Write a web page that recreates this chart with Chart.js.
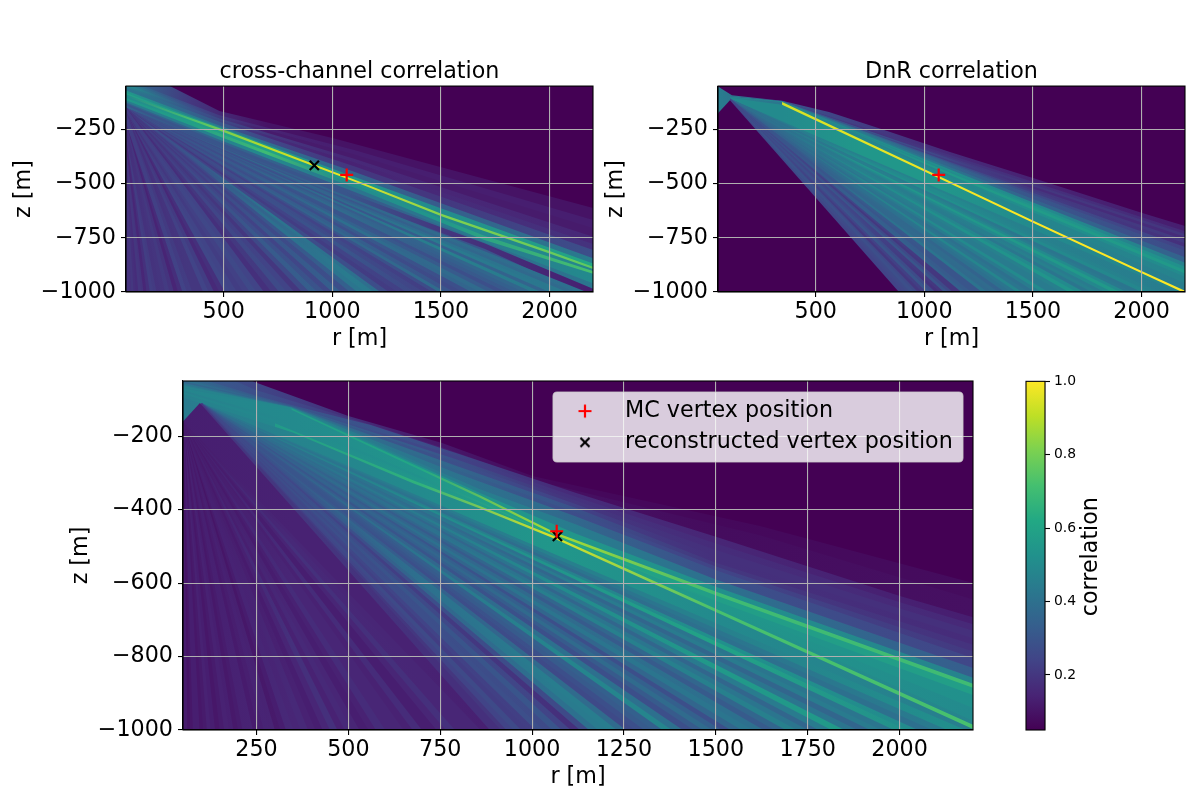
<!DOCTYPE html>
<html><head><meta charset="utf-8">
<style>html,body{margin:0;padding:0;background:#fff}#page{position:relative;width:1200px;height:800px;overflow:hidden}canvas{position:absolute}</style>
<script src="https://cdn.jsdelivr.net/npm/chart.js@4"></script>
</head><body><div id="page"></div>
<script>
// ---- values ----
const panel1Title = 'cross-channel correlation';
const panel2Title = 'DnR correlation';
const legendLabels = ['MC vertex position', 'reconstructed vertex position'];
const xLabel = 'r [m]', zLabel = 'z [m]', colorLabel = 'correlation';
const smallXTicks = [500, 1000, 1500, 2000];
const smallZTicks = [-1000, -750, -500, -250];
const bigXTicks = [250, 500, 750, 1000, 1250, 1500, 1750, 2000];
const bigZTicks = [-1000, -800, -600, -400, -200];
const colorTicks = [0.2, 0.4, 0.6, 0.8, 1.0];
const rRange = [50, 2200], zRange = [-1000, -50], corrRange = [0.05, 1.0];
const viridisStops = ['#440154','#482475','#414487','#355f8d','#2a788e','#21918c','#22a884','#44bf70','#7ad151','#bddf26','#fde725'];
const corrStations = [50, 350, 700, 1060, 1500, 2200];
const p1McVertex = [1066, -460], p1RecoVertex = [917, -416];
const p2McVertex = [1066, -460];
const p3McVertex = [1067, -459], p3RecoVertex = [1069, -473];

// Upper rays: r,z,r,z... Each band is the stretch below its ray, down to the next ray.
const p1Rays = [
[50,100,2200,100],
[50,60,252,-50,480,-165,1000,-290,2200,-613],
[50,-20,480,-185,1100,-345,2200,-668],
[50,-30,480,-192,1100,-365,2200,-705],
[50,-40,480,-200,1100,-385,2200,-745],
[50,-48,480,-208,1100,-402,2200,-778],
[50,-55,480,-215,1100,-420,2200,-806],
[50,-70,480,-232,1100,-445,2200,-844],
[50,-82,480,-240,1100,-468,2200,-868],
[50,-88,266,-168,498,-250,1118,-488,1505,-640,1993,-808,2200,-884],
[50,-97,266,-178,498,-262,1118,-497,1505,-652,1993,-820,2200,-894],
[50,-105,498,-275,1118,-510,1700,-740,2200,-903],
[50,-115,498,-290,1118,-525,1700,-760,2200,-916],
[50,-125,498,-305,1118,-545,1700,-770,2200,-960],
[50,-130,498,-315,1118,-560,1700,-775,2200,-985],
[50,-140,498,-330,1118,-585,1700,-800,2200,-1030]
];
const p1Corr = [
[.05,.05,.05,.05,.05,.05],
[.40,.20,.10,.10,.10,.10],[.42,.26,.14,.13,.13,.13],[.46,.28,.12,.12,.12,.12],[.50,.30,.20,.16,.15,.16],[.46,.30,.17,.14,.16,.19],[.42,.35,.25,.20,.20,.28],
[.55,.45,.40,.35,.32,.45],[.60,.55,.55,.55,.50,.62],[.50,.72,.90,.98,.82,.76],[.50,.58,.60,.55,.50,.48],
[.55,.58,.70,.50,.55,.72],[.45,.45,.50,.42,.42,.50],[.35,.35,.35,.30,.38,.42],[.30,.30,.30,.30,.20,.13],
[.35,.30,.30,.30,.30,.30]
];
// Lower rays run from r=50 at the start depth to the bottom edge at the hit radius.
const p1FanHit = [2170,2120,2080,2040,2000,1960,1920,1880,1840,1800,1760,1720,1680,1640,1600,1560,1520,1490,1460,1420,1380,1340,1300,1260,1220,1190,1150,1115,1080,1040,1000,965,930,895,860,825,790,755,720,685,650,620,590,560,530,505,480,455,430,405,380,355,330,310,290,270,250,230,210,190,175,160,145,130,120,107,95,85,75];
const p1FanStart = [-150,-150,-150,-150,-150,-150,-150,-150,-150,-150,-150,-150,-150,-150,-150,-150,-150,-150,-150,-150,-150,-150,-150,-150,-150,-150,-150,-150,-150,-150,-150,-150,-150,-150,-150,-150,-150,-150,-150,-150,-150,-170,-170,-170,-170,-170,-170,-170,-170,-170,-170,-170,-170,-220,-220,-220,-220,-220,-220,-280,-280,-280,-280,-330,-330,-380,-380,-450,-450];
const p1FanCorr = [
[.28,.30,.32,.36,.38,.40],[.28,.28,.30,.30,.36,.38],[.30,.32,.38,.34,.40,.44],[.28,.28,.30,.38,.44,.42],[.26,.26,.28,.30,.34,.36],
[.28,.30,.34,.40,.46,.42],[.26,.28,.30,.32,.36,.36],[.28,.30,.32,.36,.34,.34],[.28,.28,.36,.38,.32,.30],[.26,.26,.30,.30,.28,.28],
[.26,.26,.28,.30,.32,.32],[.27,.30,.32,.34,.38,.38],[.30,.30,.34,.40,.36,.34],[.26,.28,.30,.32,.28],[.26,.26,.28,.28,.26],
[.26,.28,.32,.34,.30],[.25,.30,.34,.36,.38],[.24,.26,.28,.30,.26],[.22,.22,.24,.24,.22],[.24,.26,.28,.26,.24],
[.24,.26,.28,.30,.24],[.22,.24,.24,.24,.22],[.20,.20,.22,.22,.21],[.22,.24,.26,.28,.26],[.26,.30,.42,.40,.38],
[.25,.30,.36,.44,.42],[.24,.28,.40,.42,.42],[.22,.24,.30,.34],[.20,.22,.26,.28],[.22,.24,.30,.34],
[.18,.22,.24,.26],[.20,.24,.28,.30],[.22,.26,.32,.34],[.20,.22,.26],[.18,.20,.20],
[.20,.22,.24],[.20,.24,.26],[.18,.20,.21],[.16,.18,.18],[.20,.24,.24],
[.22,.25,.26],[.20,.23,.23],[.18,.22,.22],[.20,.24,.24],[.22,.25,.25],
[.18,.18,.18],[.15,.16,.16],[.19,.22,.22],[.20,.24,.24],[.18,.20,.20],
[.17,.20,.20],[.20,.22,.22],[.22,.24,.24],[.16,.18],[.14,.15],
[.18,.20],[.20,.22],[.19,.20],[.18,.20],[.21,.22],
[.22,.23],[.18,.19],[.15,.16],[.19,.20],[.20,.20],
[.17,.18],[.18,.18],[.20,.20],[.19,.19]
];

const p2Rays = [
[50,100,2200,100],
[50,-52,114,-92,345,-118,561,-170,791,-245,1118,-354,1500,-474,2003,-636,2200,-696],
[105,-100,345,-119,1118,-368,2200,-720],
[105,-100,345,-119,1118,-378,2200,-733],
[105,-100,345,-119,1118,-385,2200,-745],
[105,-100,345,-120,1118,-393,2200,-760],
[105,-100,345,-120,1118,-400,2200,-775],
[105,-100,345,-120,1118,-406,2200,-792],
[105,-100,345,-120,1118,-412,2200,-810],
[105,-100,345,-121,1118,-425,2200,-840],
[105,-100,345,-121,1118,-435,2200,-865],
[105,-100,345,-122,1118,-443,2200,-883],
[105,-100,345,-122,1118,-450,2200,-900],
[105,-100,345,-122,1118,-460,2200,-915],
[105,-100,345,-122,1118,-470,2200,-930],
[105,-100,345,-123,1118,-482,2200,-960],
[345,-124,1118,-489,1500,-670,2003,-904,2200,-994],
[105,-105,345,-136,1118,-500,1500,-681,2003,-915,2200,-1006]
];
const p2Corr = [
[.05,.05,.05,.05,.05,.05],
[.45,.30,.22,.17,.14,.13],[.40,.25,.20,.19,.18,.17],[.40,.25,.18,.21,.20,.20],[.40,.30,.30,.25,.17,.17],[.40,.30,.26,.22,.20,.21],
[.42,.36,.34,.30,.22,.18],[.42,.38,.38,.34,.26,.24],[.42,.40,.42,.36,.30,.27],[.45,.45,.45,.42,.35,.35],[.48,.50,.52,.52,.50,.46],
[.48,.46,.48,.50,.54,.52],[.48,.48,.50,.56,.57,.56],[.48,.50,.46,.48,.52,.50],[.48,.50,.48,.50,.48,.47],
[.48,.42,.50,.52,.48,.45],[.92,.94,.96,.98,1,1],
[.50,.50,.55,.55,.50,.48]
];
const p2FanHit = [2170,2120,2080,2040,2000,1960,1930,1900,1865,1830,1800,1770,1735,1700,1665,1630,1600,1570,1540,1510,1480,1450,1425,1400,1370,1340,1315,1290,1265,1240,1215,1190,1170,1150,1130,1110,1090,1070,1050,1030,1010,990,970,955,935,920,905];
const p2FanCorr = [
[.40,.44,.46,.47,.46,.45],[.40,.45,.48,.50,.46,.45],[.40,.42,.50,.50,.47,.46],[.40,.42,.52,.52,.50,.48],[.38,.40,.44,.44,.42,.42],
[.40,.40,.46,.46,.44,.42],[.38,.40,.44,.48,.50,.50],[.40,.42,.54,.55,.56,.56],[.40,.42,.50,.50,.50,.48],[.38,.40,.46,.46,.44,.44],
[.38,.40,.44,.44,.46,.46],[.40,.40,.46,.44,.42,.42],[.38,.40,.46,.48,.50,.50],[.40,.42,.50,.52,.54],[.38,.40,.44,.46,.46],
[.40,.40,.44,.44,.44],[.38,.38,.42,.44,.44],[.38,.38,.48,.50,.50],[.36,.38,.44,.44,.44],[.36,.38,.42,.40,.40],
[.36,.36,.40,.42,.42],[.36,.38,.46,.48,.48],[.34,.36,.40,.42,.42],[.34,.36,.40,.40,.40],[.34,.34,.38,.36,.34],
[.34,.36,.36,.38,.38],[.30,.32,.36,.38,.36],[.30,.30,.40,.42,.40],[.28,.30,.32,.30],[.30,.30,.30,.30],
[.28,.30,.34,.32],[.28,.30,.34,.34],[.26,.26,.24,.20],[.25,.25,.20,.20],[.26,.28,.26,.26],
[.28,.30,.30,.30],[.26,.26,.24,.20],[.25,.25,.25,.18],[.26,.28,.28,.26],[.28,.28,.30,.30],
[.26,.26,.24,.22],[.25,.25,.20,.20],[.27,.28,.26,.26],[.28,.30,.28,.28],[.26,.28,.26],
[.25,.30,.25],[.24,.26,.24]
];
const p2Floor = [50,-175,105,-115,883,-1000];

const p3Rays = [
[50,100,2200,100],
[50,40,250,-55,500,-145,755,-219,1003,-309,1620,-445,2200,-600],
[50,10,250,-75,500,-150,755,-230,1003,-320,1620,-470,2200,-645],
[50,-30,250,-90,345,-115,561,-170,791,-245,1118,-354,1500,-474,2003,-636,2200,-693],
[50,-40,345,-117,791,-253,1118,-365,1500,-492,2003,-653,2200,-712],
[50,-45,345,-118,791,-262,1118,-375,1500,-510,2003,-670,2200,-730],
[50,-50,345,-119,791,-270,1118,-385,1500,-528,2003,-688,2200,-750],
[50,-55,345,-120,791,-280,1118,-395,1500,-545,2200,-768],
[50,-60,345,-121,791,-290,1118,-407,1500,-555,2200,-786],
[50,-62,345,-122,791,-300,1118,-418,1500,-565,2200,-804],
[50,-65,345,-122,858,-345,1118,-440,1500,-590,2200,-831],
[50,-66,345,-123,858,-355,1118,-465,1500,-610,2200,-858],
[345,-124,858,-361,1060,-461,1505,-625,2200,-874],
[50,-70,345,-128,858,-368,1060,-468,1505,-635,2200,-885],
[50,-75,349,-160,858,-378,1060,-470,1505,-650,2200,-905],
[50,-80,349,-170,858,-383,1060,-470.5,1505,-655,2200,-940],
[50,-85,349,-178,858,-386,1060,-471,1505,-664,2200,-975],
[300,-165,676,-320,858,-390,1060,-472,1503,-671,2200,-986],
[50,-95,349,-190,676,-328,858,-397,1060,-479,1503,-680,2200,-997]
];
const p3Corr = [
[.05,.05,.05,.05,.05,.05],
[.30,.22,.12,.07,.07,.08],[.33,.25,.14,.09,.08,.09],[.36,.30,.28,.17,.15,.13],[.38,.30,.25,.19,.17,.16],[.40,.33,.32,.20,.18,.18],[.36,.34,.29,.24,.18,.17],
[.42,.38,.38,.30,.20,.19],[.44,.42,.37,.28,.24,.21],[.46,.47,.42,.38,.28,.25],[.48,.48,.45,.45,.40,.33],[.46,.50,.52,.55,.52,.47],
[.50,.58,.62,.88,.70,.70],[.48,.50,.54,.62,.58,.58],[.46,.50,.53,.66,.55,.52],[.48,.50,.54,.60,.55,.50],
[.46,.50,.55,.62,.55,.47],[.50,.58,.66,.95,.72,.72],[.44,.47,.50,.55,.50,.45]
];
const p3FanHit = [2180,2130,2090,2050,2020,1985,1950,1920,1885,1850,1815,1780,1750,1720,1690,1660,1630,1600,1570,1540,1515,1490,1465,1440,1410,1380,1355,1330,1305,1280,1255,1230,1205,1180,1155,1130,1105,1080,1055,1030,1010,990,970,950,930,915];
const p3FanCorr = [
[.42,.44,.44,.46,.46,.52],[.42,.42,.42,.42,.42,.44],[.42,.42,.40,.38,.40,.40],[.42,.44,.46,.46,.52,.50],[.42,.46,.50,.54,.60,.50],
[.40,.40,.42,.40,.42,.42],[.40,.40,.42,.44,.44,.44],[.40,.40,.38,.36,.36,.36],[.40,.40,.40,.40,.42,.42],[.40,.42,.44,.50,.56,.56],
[.40,.40,.40,.42,.44,.44],[.40,.38,.36,.36,.36,.36],[.40,.40,.40,.42,.42],[.40,.38,.40,.46,.46],[.38,.38,.36,.36,.36],
[.35,.35,.32,.32,.32],[.36,.36,.36,.38,.40],[.35,.38,.40,.42,.42],[.35,.36,.36,.36,.36],[.35,.33,.30,.28,.28],
[.34,.34,.34,.34,.34],[.35,.35,.36,.38,.38],[.33,.34,.34,.32,.32],[.30,.30,.30,.28,.28],[.30,.32,.36,.40,.40],
[.30,.35,.42,.48,.48],[.30,.32,.34,.34,.34],[.30,.30,.32,.32],[.28,.30,.30,.28],[.28,.30,.28,.26],
[.28,.30,.34,.38],[.28,.32,.40,.45],[.26,.30,.40,.44],[.25,.30,.36,.40],[.25,.28,.28,.26],
[.25,.25,.22,.18],[.25,.28,.26,.24],[.25,.28,.30,.30],[.24,.26,.28,.26],[.25,.28,.28,.28],
[.24,.26,.24,.22],[.22,.25,.22,.22],[.24,.26,.26],[.22,.25,.24],[.22,.22,.20],[.20,.20,.18]
];
const p3Floor = [50,-160,96,-110,885,-1000];
const p3FloorCorr = [.13,.14,.14,.13];
const p3DimHit = [860,830,790,765,740,700,675,650,625,600,575,555,530,510,490,470,450,430,410,390,370,350,330,315,300,285,270,255,240,225,212,200,187,175,162,150,137,125,115,105,95,85,77,70,62];
const p3DimCorr = [
[.12,.15,.15,.15],[.12,.16,.15],[.13,.18,.18],[.12,.15,.15],[.12,.13,.13],[.13,.17,.17],[.12,.14,.14],[.12,.15,.15],[.12,.15,.15],[.13,.17,.17],
[.12,.14,.14],[.11,.13,.13],[.12,.15,.15],[.12,.16,.16],[.12,.14,.14],[.13,.18,.18],[.12,.15,.15],[.11,.13,.13],[.12,.14,.14],[.12,.16,.16],
[.13,.15,.15],[.13,.16,.16],[.12,.13,.13],[.10,.12,.12],[.12,.15,.15],[.13,.15,.15],[.12,.14,.14],[.11,.13,.13],[.13,.15,.15],[.13,.15,.15],
[.12,.13,.13],[.11,.12,.12],[.13,.14,.14],[.14,.14,.14],[.12,.13,.13],[.11,.11,.11],[.13,.13,.13],[.14,.14,.14],[.12,.12,.12],[.11,.11,.11],
[.13,.13,.13],[.13,.13,.13],[.11,.11,.11],[.10,.10,.10],[.12,.12,.12]
];

// ---- drawing ----
Chart.defaults.font.family = '"DejaVu Sans"';
Chart.defaults.color = '#000';
const bigFont = {size: 22.22, family: '"DejaVu Sans"'};
const LW = 1.1, GRID = '#b0b0b0';

function hexRgb(h){return [1,3,5].map(i=>parseInt(h.substr(i,2),16));}
function corrColor(c){
  let t=(c-corrRange[0])/(corrRange[1]-corrRange[0]); t=Math.max(0,Math.min(1,t));
  const f=t*(viridisStops.length-1), i=Math.min(Math.floor(f),viridisStops.length-2), u=f-i;
  const a=hexRgb(viridisStops[i]), b=hexRgb(viridisStops[i+1]);
  return 'rgb('+a.map((v,k)=>Math.round(v+(b[k]-v)*u)).join(',')+')';
}
function bandFill(chart, values){
  const x=chart.scales.x; if(!chart.chartArea||!x) return 'rgba(0,0,0,0)';
  const x0=x.getPixelForValue(rRange[0]), x1=x.getPixelForValue(rRange[1]);
  const g=chart.ctx.createLinearGradient(x0,0,x1,0);
  corrStations.forEach((s,i)=>{const v=i<values.length?values[i]:values[values.length-1];
    g.addColorStop((x.getPixelForValue(s)-x0)/(x1-x0), corrColor(v));});
  return g;
}
function rayPoints(ray){const p=[];for(let i=0;i<ray.length;i+=2)p.push({x:ray[i],y:ray[i+1]});return p;}
function bandDatasets(rays, corr){
  return rays.map((ray,i)=>({type:'line',data:rayPoints(ray),fill:'start',pointRadius:0,borderWidth:0,
    borderColor:'rgba(0,0,0,0)',tension:0,backgroundColor:ctx=>bandFill(ctx.chart,corr[i])})).reverse();
}
function fanRays(hits, startR, starts){return hits.map((R,i)=>[startR, Array.isArray(starts)?starts[i]:starts, R, zRange[0]]);}
function vertexDataset(pos, style, color){
  return {type:'line',data:[{x:pos[0],y:pos[1]}],showLine:false,pointStyle:style,pointRadius:6.5,
    pointBorderColor:color,pointBackgroundColor:color,pointBorderWidth:2.2,fill:false};
}
function minusTick(v){return String(v).replace('-','\u2212');}
function axis(ticks, title, sizeProp, size, extra){
  return Object.assign({type:'linear',bounds:'data',
    afterBuildTicks:s=>{s.ticks=ticks.map(v=>({value:v}));},
    afterFit:s=>{s[sizeProp]=size;},
    grid:{color:GRID,lineWidth:LW,tickColor:'#000',tickWidth:LW,tickLength:5,z:1,drawOnChartArea:true},
    border:{color:'#000',width:LW,z:2},
    title:{display:true,text:title,font:bigFont,color:'#000',padding:{top:0,bottom:sizeProp==='height'?0:1.7}},
  },extra);
}
const framePlugin={id:'frame',afterDraw(chart){
  const a=chart.chartArea,c=chart.ctx;c.save();c.strokeStyle='#000';c.lineWidth=LW;
  c.strokeRect(a.left,a.top,a.right-a.left,a.bottom-a.top);c.restore();}};

function markerImage(style,color){
  const m=document.createElement('canvas');m.width=m.height=18;const c=m.getContext('2d');
  c.strokeStyle=color;c.lineWidth=2.2;c.beginPath();
  if(style==='cross'){c.moveTo(2.5,9);c.lineTo(15.5,9);c.moveTo(9,2.5);c.lineTo(9,15.5);}
  else{c.moveTo(4.5,4.5);c.lineTo(13.5,13.5);c.moveTo(13.5,4.5);c.lineTo(4.5,13.5);}
  c.stroke();return m;
}
const P3={left:68,top:361};
const legendBox={x:553-P3.left,y:392-P3.top,w:410,h:70};
const legendPlugin={id:'vertexLegend',
  afterLayout(chart){const l=chart.legend;if(!l)return;
    l.left=556-P3.left-9;l.right=l.left+420;l.top=391-P3.top;l.bottom=l.top+90;l.width=420;l.height=90;},
  afterDraw(chart){const c=chart.ctx;c.save();
    c.fillStyle='rgba(255,255,255,0.8)';c.strokeStyle='rgba(204,204,204,0.8)';c.lineWidth=LW;
    c.beginPath();c.roundRect(legendBox.x,legendBox.y,legendBox.w,legendBox.h,4);c.fill();c.stroke();c.restore();
    chart.legend.draw();}
};

function addCanvas(left,top,w,h){
  const c=document.createElement('canvas');c.width=w;c.height=h;c.style.left=left+'px';c.style.top=top+'px';
  c.style.width=w+'px';c.style.height=h+'px';document.getElementById('page').appendChild(c);return c.getContext('2d');
}
function heatChart(left,top,w,h,topPad,datasets,xt,zt,title,plugins,legendCfg){
  return new Chart(addCanvas(left,top,w,h),{type:'line',data:{datasets},plugins,
    options:{responsive:false,devicePixelRatio:1,animation:false,events:[],
      layout:{padding:{top:topPad,right:15,left:0,bottom:0}},
      scales:{
        x:axis(xt,xLabel,'height',61,{position:'bottom',min:rRange[0],max:rRange[1],
          ticks:{font:bigFont,color:'#000',padding:2,autoSkip:false,maxRotation:0,callback:minusTick}}),
        y:axis(zt,zLabel,'width',115,{position:'left',min:zRange[0],max:zRange[1],
          ticks:{font:bigFont,color:'#000',padding:5,autoSkip:false,callback:minusTick}})
      },
      plugins:{tooltip:{enabled:false},
        legend:legendCfg||{display:false},
        title:title?{display:true,text:title,font:Object.assign({weight:'normal'},bigFont),color:'#000',fullSize:false,padding:{top:23.4,bottom:0}}:{display:false}}
    }});
}
const p1AllRays=p1Rays.concat(fanRays(p1FanHit,50,p1FanStart)), p1AllCorr=p1Corr.concat(p1FanCorr);
const p2AllRays=p2Rays.concat(fanRays(p2FanHit,105,-108),[p2Floor]), p2AllCorr=p2Corr.concat(p2FanCorr,[[.05]]);
const p3AllRays=p3Rays.concat(fanRays(p3FanHit,100,-110),[p3Floor],fanRays(p3DimHit,50,-160)), p3AllCorr=p3Corr.concat(p3FanCorr,[p3FloorCorr],p3DimCorr);

heatChart(11,36,597,317,0,
  [vertexDataset(p1McVertex,'cross','#ff0000'),vertexDataset(p1RecoVertex,'crossRot','#000')].concat(bandDatasets(p1AllRays,p1AllCorr)),
  smallXTicks,smallZTicks,panel1Title,[framePlugin]);
heatChart(603,36,597,317,0,
  [vertexDataset(p2McVertex,'cross','#ff0000')].concat(bandDatasets(p2AllRays,p2AllCorr)),
  smallXTicks,smallZTicks,panel2Title,[framePlugin]);
heatChart(P3.left,P3.top,920,430,20,
  [vertexDataset(p3McVertex,'cross','#ff0000'),vertexDataset(p3RecoVertex,'crossRot','#000')].concat(bandDatasets(p3AllRays,p3AllCorr)),
  bigXTicks,bigZTicks,null,[framePlugin,legendPlugin],
  {display:true,position:'chartArea',align:'start',labels:{usePointStyle:true,pointStyleWidth:58,padding:9,font:bigFont,color:'#000',
    generateLabels:()=>[
      {text:legendLabels[0],pointStyle:markerImage('cross','#ff0000'),fontColor:'#000',lineWidth:0,strokeStyle:'#ff0000',fillStyle:'#ff0000',datasetIndex:0},
      {text:legendLabels[1],pointStyle:markerImage('crossRot','#000'),fontColor:'#000',lineWidth:0,strokeStyle:'#000',fillStyle:'#000',datasetIndex:1}]}});

// colour bar
const colorbarTop = [{x:0,y:corrRange[1]},{x:1,y:corrRange[1]}];
const cbLabelPlugin={id:'cbLabel',afterDraw(chart){
  const c=chart.ctx,a=chart.chartArea;c.save();c.translate(1091-1006,(a.top+a.bottom)/2+1);c.rotate(-Math.PI/2);
  c.font='22.22px "DejaVu Sans"';c.fillStyle='#000';c.textAlign='center';c.textBaseline='middle';c.fillText(colorLabel,0,0);c.restore();}};
new Chart(addCanvas(1006,369,174,400),{type:'line',plugins:[framePlugin,cbLabelPlugin],
  data:{datasets:[{data:colorbarTop,fill:'start',pointRadius:0,borderWidth:0,borderColor:'rgba(0,0,0,0)',
    backgroundColor:ctx=>{const ch=ctx.chart,a=ch.chartArea;if(!a)return 'rgba(0,0,0,0)';
      const g=ch.ctx.createLinearGradient(0,a.bottom,0,a.top);
      viridisStops.forEach((col,i)=>g.addColorStop(i/(viridisStops.length-1),col));return g;}}]},
  options:{responsive:false,devicePixelRatio:1,animation:false,events:[],
    layout:{padding:{top:12,left:20,right:0,bottom:39}},
    scales:{
      x:{type:'linear',display:false,min:0,max:1},
      y:{type:'linear',position:'right',bounds:'data',min:corrRange[0],max:corrRange[1],
        afterBuildTicks:s=>{s.ticks=colorTicks.map(v=>({value:v}));},afterFit:s=>{s.width=135;},
        grid:{drawOnChartArea:false,tickColor:'#000',tickWidth:LW,tickLength:5},
        border:{color:'#000',width:LW},
        ticks:{font:{size:13.9,family:'"DejaVu Sans"'},color:'#000',padding:4,autoSkip:false,callback:v=>v.toFixed(1)}}
    },
    plugins:{legend:{display:false},tooltip:{enabled:false},title:{display:false}}}});
</script></body></html>
